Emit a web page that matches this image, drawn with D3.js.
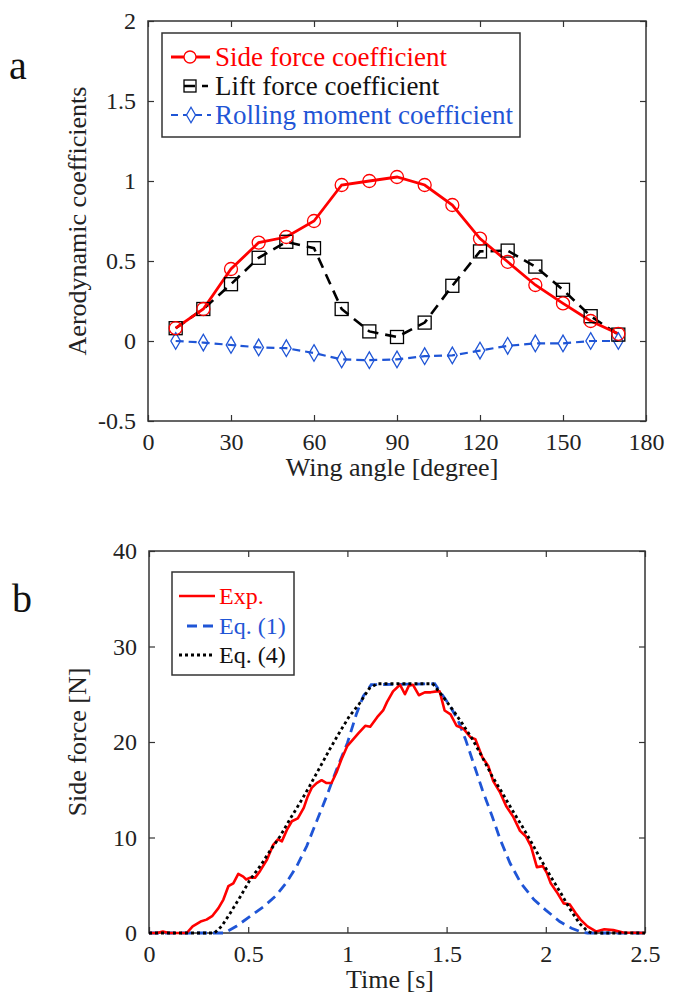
<!DOCTYPE html>
<html>
<head>
<meta charset="utf-8">
<script src="https://cdn.jsdelivr.net/npm/d3@7"></script>
<style>
  html, body { margin: 0; padding: 0; background: #fff; }
  svg { display: block; }
  text { font-family: "Liberation Serif", "Times New Roman", serif; }
</style>
</head>
<body>
<svg id="chart" width="675" height="996"></svg>
<script>
// ---------- Panel a data ----------
const wingAngles = [10, 20, 30, 40, 50, 60, 70, 80, 90, 100, 110, 120, 130, 140, 150, 160, 170];
const sideForceCoef = [0.08, 0.2, 0.45, 0.615, 0.65, 0.75, 0.975, 1.0, 1.025, 0.975, 0.85, 0.64, 0.495, 0.35, 0.235, 0.125, 0.045];
const liftForceCoef = [0.08, 0.2, 0.355, 0.52, 0.62, 0.58, 0.2, 0.06, 0.025, 0.115, 0.345, 0.56, 0.565, 0.465, 0.32, 0.155, 0.04];
const rollingMomentCoef = [0, -0.01, -0.025, -0.04, -0.045, -0.075, -0.115, -0.12, -0.115, -0.095, -0.09, -0.06, -0.03, -0.015, -0.015, 0, 0];
const aXTicks = [0, 30, 60, 90, 120, 150, 180];
const aYTicks = [-0.5, 0, 0.5, 1, 1.5, 2];
const aLegend = ["Side force coefficient", "Lift force coefficient", "Rolling moment coefficient"];

// ---------- Panel b data ----------
const expTime = [0, 0.04, 0.07, 0.1, 0.19, 0.22, 0.26, 0.29, 0.32, 0.35, 0.375, 0.40, 0.425, 0.45, 0.475, 0.49, 0.51, 0.535, 0.56, 0.595, 0.625, 0.65, 0.67, 0.695, 0.72, 0.75, 0.78, 0.80, 0.82, 0.845, 0.87, 0.895, 0.92, 0.945, 0.97, 1.0, 1.03, 1.055, 1.09, 1.115, 1.15, 1.18, 1.2, 1.23, 1.265, 1.29, 1.31, 1.33, 1.36, 1.39, 1.42, 1.45, 1.465, 1.49, 1.52, 1.55, 1.585, 1.62, 1.645, 1.68, 1.71, 1.735, 1.77, 1.80, 1.835, 1.87, 1.90, 1.925, 1.955, 1.985, 2.005, 2.025, 2.055, 2.09, 2.12, 2.15, 2.175, 2.21, 2.255, 2.295, 2.34, 2.39, 2.5];
const expForce = [0, 0, 0.15, 0, 0, 0.7, 1.2, 1.4, 1.8, 2.6, 3.5, 4.9, 5.2, 6.2, 5.9, 5.6, 5.8, 5.8, 6.5, 7.7, 9.2, 9.8, 9.6, 10.8, 11.7, 12.0, 13.1, 14.3, 15.2, 15.7, 16.0, 15.7, 15.7, 16.8, 18.2, 19.6, 20.3, 20.9, 21.7, 21.6, 22.6, 23.3, 24.2, 25.3, 26.0, 25.0, 25.9, 26.0, 24.9, 25.2, 25.2, 25.3, 25.3, 23.3, 22.9, 21.7, 21.4, 20.5, 20.3, 18.4, 17.5, 15.9, 14.7, 13.3, 12.2, 10.7, 10.1, 9.1, 6.9, 7.0, 6.3, 5.2, 4.3, 3.1, 3.0, 2.1, 1.4, 0.7, 0.15, 0.4, 0.3, 0.05, 0];
const eq1Time = [0, 0.38, 0.44, 0.51, 0.58, 0.64, 0.69, 0.745, 0.795, 0.845, 0.895, 0.945, 1.0, 1.045, 1.08, 1.12, 1.44, 1.51, 1.555, 1.595, 1.64, 1.68, 1.73, 1.77, 1.82, 1.875, 1.94, 2.0, 2.07, 2.13, 2.18, 2.21, 2.5];
const eq1Force = [0, 0, 0.7, 1.75, 2.8, 3.9, 5.2, 7.0, 9.1, 11.7, 14.3, 17.1, 19.9, 22.9, 24.8, 26.0, 26.1, 24.0, 22.4, 20.3, 17.5, 15.0, 12.2, 9.8, 7.3, 5.2, 3.5, 2.4, 1.2, 0.5, 0.1, 0, 0];
const eq4Time = [0, 0.33, 0.366, 0.41, 0.46, 0.51, 0.56, 0.61, 0.66, 0.71, 0.76, 0.81, 0.86, 0.91, 0.96, 1.01, 1.06, 1.11, 1.15, 1.43, 1.48, 1.53, 1.58, 1.63, 1.68, 1.73, 1.78, 1.83, 1.88, 1.93, 1.975, 2.025, 2.075, 2.125, 2.17, 2.21, 2.23, 2.5];
const eq4Force = [0, 0, 0.7, 2.1, 3.8, 5.6, 7.0, 8.6, 10.1, 11.9, 13.6, 15.4, 17.3, 19.2, 21.0, 22.7, 24.0, 25.6, 26.1, 26.1, 24.8, 23.4, 21.9, 20.3, 18.4, 16.4, 14.7, 12.9, 11.2, 9.4, 7.7, 5.9, 4.2, 2.4, 1.0, 0.2, 0, 0];
const bXTicks = [0, 0.5, 1, 1.5, 2, 2.5];
const bYTicks = [0, 10, 20, 30, 40];
const bLegend = ["Exp.", "Eq. (1)", "Eq. (4)"];

// ---------- styles ----------
const RED = "#ff0000";
const BLUE = "#1f55d6";
const FRAME = "#333";
const svg = d3.select("#chart");

function frameAxes(g, x, y, xTicks, yTicks, box, fmtX, fmtY) {
  const tick = 6;
  g.append("g").attr("transform", `translate(0,${box.bottom})`)
    .call(d3.axisBottom(x).tickValues(xTicks).tickSize(-tick).tickPadding(12).tickFormat(fmtX));
  g.append("g").attr("transform", `translate(0,${box.top})`)
    .call(d3.axisTop(x).tickValues(xTicks).tickSize(-tick).tickFormat(""));
  g.append("g").attr("transform", `translate(${box.left},0)`)
    .call(d3.axisLeft(y).tickValues(yTicks).tickSize(-tick).tickPadding(12).tickFormat(fmtY));
  g.append("g").attr("transform", `translate(${box.right},0)`)
    .call(d3.axisRight(y).tickValues(yTicks).tickSize(-tick).tickFormat(""));
  g.selectAll(".domain").remove();
  g.selectAll(".tick line").attr("stroke", FRAME).attr("stroke-width", 1.2);
  g.selectAll(".tick text").attr("fill", "#222").style("font-size", "24px")
    .style("font-family", '"Liberation Serif", "Times New Roman", serif');
  g.append("rect").attr("x", box.left).attr("y", box.top)
    .attr("width", box.right - box.left).attr("height", box.bottom - box.top)
    .attr("fill", "none").attr("stroke", FRAME).attr("stroke-width", 1.5);
}

// =============== Panel a ===============
const boxA = { left: 148, right: 646, top: 21, bottom: 421 };
const xA = d3.scaleLinear().domain([0, 180]).range([boxA.left, boxA.right]);
const yA = d3.scaleLinear().domain([-0.5, 2]).range([boxA.bottom, boxA.top]);
const gA = svg.append("g");
frameAxes(gA, xA, yA, aXTicks, aYTicks, boxA, d => String(d), d => String(d));

const lineA = vals => d3.line().x((d, i) => xA(wingAngles[i])).y(d => yA(d))(vals);

// rolling moment (blue dashed, diamonds)
gA.append("path").attr("d", lineA(rollingMomentCoef)).attr("fill", "none")
  .attr("stroke", BLUE).attr("stroke-width", 2.2).attr("stroke-dasharray", "8,5");
// lift (black dashed, squares)
gA.append("path").attr("d", lineA(liftForceCoef)).attr("fill", "none")
  .attr("stroke", "#000").attr("stroke-width", 2.6).attr("stroke-dasharray", "11,7");
// side (red solid, circles)
gA.append("path").attr("d", lineA(sideForceCoef)).attr("fill", "none")
  .attr("stroke", RED).attr("stroke-width", 2.8);

const diamond = d3.symbol().type(d3.symbolDiamond2 || d3.symbolDiamond).size(90);
gA.selectAll(".dia").data(rollingMomentCoef).join("path")
  .attr("transform", (d, i) => `translate(${xA(wingAngles[i])},${yA(d)})`)
  .attr("d", d3.symbol().type(d3.symbolDiamond).size(80)).attr("fill", "none")
  .attr("stroke", BLUE).attr("stroke-width", 1.3);
gA.selectAll(".sq").data(liftForceCoef).join("rect")
  .attr("x", (d, i) => xA(wingAngles[i]) - 6.5).attr("y", d => yA(d) - 6.5)
  .attr("width", 13).attr("height", 13).attr("fill", "none")
  .attr("stroke", "#000").attr("stroke-width", 1.3);
gA.selectAll(".ci").data(sideForceCoef).join("circle")
  .attr("cx", (d, i) => xA(wingAngles[i])).attr("cy", d => yA(d)).attr("r", 6.5)
  .attr("fill", "none").attr("stroke", RED).attr("stroke-width", 1.3);

// legend a
const legA = gA.append("g");
legA.append("rect").attr("x", 162).attr("y", 33).attr("width", 358).attr("height", 104)
  .attr("fill", "#fff").attr("stroke", FRAME).attr("stroke-width", 1.5);
const legAY = [57, 86, 115];
const legAColors = [RED, "#111", BLUE];
// red
legA.append("line").attr("x1", 171).attr("x2", 210).attr("y1", legAY[0]).attr("y2", legAY[0])
  .attr("stroke", RED).attr("stroke-width", 2.8);
legA.append("circle").attr("cx", 190).attr("cy", legAY[0]).attr("r", 6).attr("fill", "#fff")
  .attr("stroke", RED).attr("stroke-width", 1.3);
// black
legA.append("line").attr("x1", 184).attr("x2", 208).attr("y1", legAY[1]).attr("y2", legAY[1])
  .attr("stroke", "#000").attr("stroke-width", 2.4).attr("stroke-dasharray", "11,7");
legA.append("rect").attr("x", 184).attr("y", legAY[1] - 6).attr("width", 12).attr("height", 12)
  .attr("fill", "none").attr("stroke", "#000").attr("stroke-width", 1.3);
// blue
legA.append("line").attr("x1", 171).attr("x2", 211).attr("y1", legAY[2]).attr("y2", legAY[2])
  .attr("stroke", BLUE).attr("stroke-width", 2.2).attr("stroke-dasharray", "7,5");
legA.append("path").attr("transform", `translate(191,${legAY[2]})`)
  .attr("d", d3.symbol().type(d3.symbolDiamond).size(70)).attr("fill", "#fff")
  .attr("stroke", BLUE).attr("stroke-width", 1.3);
legA.selectAll(".lt").data(aLegend).join("text")
  .attr("x", 215).attr("y", (d, i) => legAY[i]).attr("dy", "0.35em")
  .attr("fill", (d, i) => legAColors[i]).style("font-size", "27px").text(d => d);

// labels a
gA.append("text").attr("x", (boxA.left + boxA.right) / 2 - 5).attr("y", 476)
  .attr("text-anchor", "middle").style("font-size", "26px").attr("fill", "#222")
  .text("Wing angle [degree]");
gA.append("text").attr("transform", `translate(86,${(boxA.top + boxA.bottom) / 2}) rotate(-90)`)
  .attr("text-anchor", "middle").style("font-size", "26px").attr("fill", "#222")
  .text("Aerodynamic coefficients");
gA.append("text").attr("x", 9).attr("y", 79).style("font-size", "40px").attr("fill", "#111").text("a");

// =============== Panel b ===============
const boxB = { left: 149, right: 645, top: 551, bottom: 933 };
const xB = d3.scaleLinear().domain([0, 2.5]).range([boxB.left, boxB.right]);
const yB = d3.scaleLinear().domain([0, 40]).range([boxB.bottom, boxB.top]);
const gB = svg.append("g");
frameAxes(gB, xB, yB, bXTicks, bYTicks, boxB, d => String(d), d => String(d));

const lineB = (ts, vs) => d3.line().x((d, i) => xB(ts[i])).y(d => yB(d))(vs);
gB.append("path").attr("d", lineB(eq1Time, eq1Force)).attr("fill", "none")
  .attr("stroke", BLUE).attr("stroke-width", 2.8).attr("stroke-dasharray", "10,6");
gB.append("path").attr("d", lineB(expTime, expForce)).attr("fill", "none")
  .attr("stroke", RED).attr("stroke-width", 2.6).attr("stroke-linejoin", "round");
gB.append("path").attr("d", lineB(eq4Time, eq4Force)).attr("fill", "none")
  .attr("stroke", "#000").attr("stroke-width", 2.8).attr("stroke-dasharray", "3,3");

// legend b
const legB = gB.append("g");
legB.append("rect").attr("x", 172).attr("y", 572).attr("width", 122).attr("height", 103)
  .attr("fill", "#fff").attr("stroke", FRAME).attr("stroke-width", 1.5);
const legBY = [596, 626, 655];
legB.append("line").attr("x1", 179).attr("x2", 215).attr("y1", legBY[0]).attr("y2", legBY[0])
  .attr("stroke", RED).attr("stroke-width", 2.6);
legB.append("line").attr("x1", 187).attr("x2", 215).attr("y1", legBY[1]).attr("y2", legBY[1])
  .attr("stroke", BLUE).attr("stroke-width", 2.8).attr("stroke-dasharray", "10,6");
legB.append("line").attr("x1", 179).attr("x2", 215).attr("y1", legBY[2]).attr("y2", legBY[2])
  .attr("stroke", "#000").attr("stroke-width", 2.8).attr("stroke-dasharray", "3,3");
const legBColors = [RED, BLUE, "#111"];
legB.selectAll(".lt").data(bLegend).join("text")
  .attr("x", 219).attr("y", (d, i) => legBY[i]).attr("dy", "0.35em")
  .attr("fill", (d, i) => legBColors[i]).style("font-size", "24px").text(d => d);

gB.append("text").attr("x", 390).attr("y", 988).attr("text-anchor", "middle")
  .style("font-size", "26px").attr("fill", "#222").text("Time [s]");
gB.append("text").attr("transform", `translate(86,${(boxB.top + boxB.bottom) / 2}) rotate(-90)`)
  .attr("text-anchor", "middle").style("font-size", "26px").attr("fill", "#222")
  .text("Side force [N]");
gB.append("text").attr("x", 12).attr("y", 612).style("font-size", "40px").attr("fill", "#111").text("b");
</script>
</body>
</html>
